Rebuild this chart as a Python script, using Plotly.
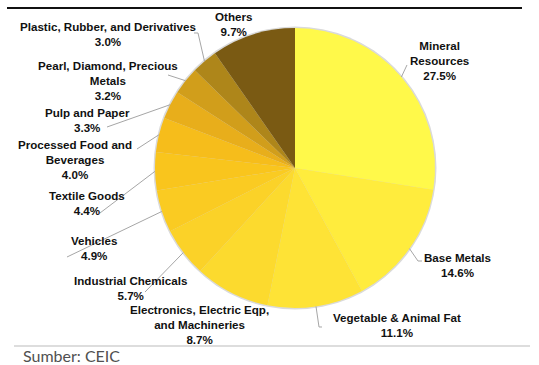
import math
import plotly.graph_objects as go

categories = ["Mineral Resources", "Base Metals", "Vegetable & Animal Fat",
              "Electronics, Electric Eqp, and Machineries", "Industrial Chemicals",
              "Vehicles", "Textile Goods", "Processed Food and Beverages",
              "Pulp and Paper", "Pearl, Diamond, Precious Metals",
              "Plastic, Rubber, and Derivatives", "Others"]
shares = [27.5, 14.6, 11.1, 8.7, 5.7, 4.9, 4.4, 4.0, 3.3, 3.2, 3.0, 9.7]
label_text = ["Mineral<br>Resources", "Base Metals", "Vegetable & Animal Fat",
              "Electronics, Electric Eqp,<br>and Machineries", "Industrial Chemicals",
              "Vehicles", "Textile Goods", "Processed Food and<br>Beverages",
              "Pulp and Paper", "Pearl, Diamond, Precious<br>Metals",
              "Plastic, Rubber, and Derivatives", "Others"]

colors = ["#FFF94A", "#FFEC3D", "#FEE336", "#FCDA2E", "#FBD228", "#FACB22",
          "#F9C51D", "#F6BD1B", "#E8AE1B", "#D19E1B", "#AE861A", "#7A5A13"]

W, H = 539, 365
CX, CY, R = 295, 168, 140

# label block centres (px) and leader-line end points (px), layout only
label_pos = [(439, 61), (457, 265), (397, 325), (200, 324), (130, 288), (94, 248),
             (87, 203), (75, 159), (87, 120), (108, 80), (108, 34), (233, 24)]
leader_pts = [[(407, 65)], [(418, 261), (422, 261)], [(319, 327), (322, 327)], None,
              [(145, 292)], [(67, 257)], [(100, 213)], [(137, 149)], [(107, 127)],
              [(168, 75)], [(198, 33), (194, 33)], None]


def px(x, y):
    return x / W, 1 - y / H


fig = go.Figure()
fig.add_trace(go.Pie(
    labels=categories, values=shares, sort=False, direction="clockwise", rotation=0,
    marker=dict(colors=colors, line=dict(width=0)), textinfo="none",
    hoverinfo="label+percent", showlegend=False,
    domain=dict(x=[(CX - R) / W, (CX + R) / W], y=[1 - (CY + R) / H, 1 - (CY - R) / H]),
))

shapes = []
annotations = []

# top black rule
shapes.append(dict(type="rect", xref="paper", yref="paper",
                   x0=7 / W, x1=522 / W, y0=1 - 9 / H, y1=1 - 7 / H,
                   fillcolor="#111111", line=dict(width=0), layer="above"))
# bottom grey rule
shapes.append(dict(type="line", xref="paper", yref="paper",
                   x0=14 / W, x1=530 / W, y0=1 - 346 / H, y1=1 - 346 / H,
                   line=dict(color="#BBBBBB", width=1)))
# pie soft edge
shapes.append(dict(type="circle", xref="paper", yref="paper",
                   x0=(CX - R - 1.5) / W, x1=(CX + R + 1.5) / W,
                   y0=1 - (CY + R + 1.5) / H, y1=1 - (CY - R - 1.5) / H,
                   fillcolor="#DADADA", line=dict(width=0), layer="below"))

total = sum(shares)
cum = 0.0
for i, v in enumerate(shares):
    mid = (cum + v / 2) / total * 2 * math.pi
    cum += v
    ex, ey = CX + R * math.sin(mid), CY - R * math.cos(mid)
    if leader_pts[i]:
        pts = [(ex, ey)] + leader_pts[i]
        path = "M " + " L ".join(f"{px(a, b)[0]:.5f},{px(a, b)[1]:.5f}" for a, b in pts)
        shapes.append(dict(type="path", path=path, xref="paper", yref="paper",
                           line=dict(color="#A6A6A6", width=1)))
    lx, ly = px(*label_pos[i])
    annotations.append(dict(
        x=lx, y=ly, xref="paper", yref="paper", showarrow=False,
        xanchor="center", yanchor="middle", align="center",
        text=f"<b>{label_text[i]}<br>{v:.1f}%</b>",
        font=dict(family="Liberation Sans, Arial", size=11.6, color="#111111"),
    ))

sx, sy = px(21, 355)
annotations.append(dict(x=sx, y=sy, xref="paper", yref="paper", showarrow=False,
                        xanchor="left", yanchor="middle", text="Sumber: CEIC",
                        font=dict(family="Lato, Open Sans", size=16, color="#505050")))

fig.update_layout(width=W, height=H, margin=dict(l=0, r=0, t=0, b=0),
                  paper_bgcolor="white", plot_bgcolor="white",
                  shapes=shapes, annotations=annotations)

post = (
    "document.body.style.margin='0px';"
    "document.body.style.overflow='hidden';"
    "var d=document.createElement('div');"
    "d.style.cssText='position:fixed;left:7px;top:7px;width:515px;height:2px;"
    "background:#111111;z-index:9999;pointer-events:none;';"
    "document.body.appendChild(d);"
)
fig.write_html("out.html", config={"displayModeBar": False}, post_script=post)
